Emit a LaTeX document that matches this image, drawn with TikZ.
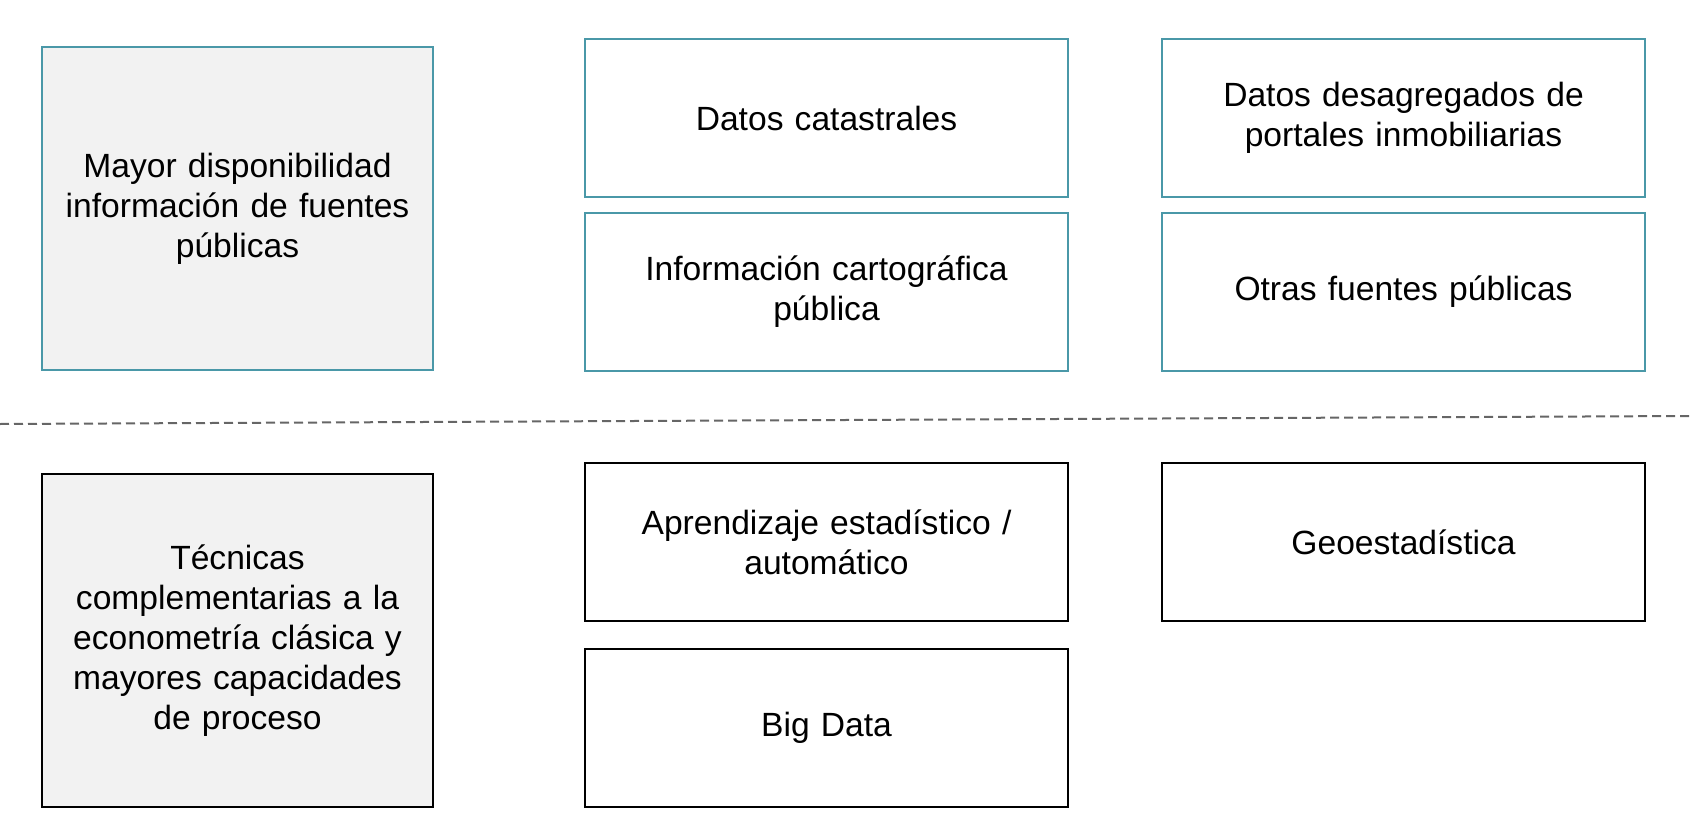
\documentclass[tikz,border=0pt]{standalone}
\usepackage{fontspec}
\setmainfont{Liberation Sans}
\usepackage{xcolor}
\usetikzlibrary{positioning}
\definecolor{tealline}{RGB}{74,152,168}
\definecolor{greyfill}{RGB}{242,242,242}
\tikzstyle{mainbox} = [rectangle, text width = 185pt, minimum width=195.5pt, minimum height=161.5pt, align=center, draw=tealline, line width=1pt, fill=greyfill, font=\fontsize{16.8pt}{20pt}\selectfont]
\tikzstyle{sourcebox} = [rectangle, text width = 230pt, minimum width=241.5pt, minimum height=79pt, align=center, draw=tealline, line width=1pt, fill=white, font=\fontsize{16.8pt}{20pt}\selectfont]
\tikzstyle{techbox} = [sourcebox, draw=black]
\tikzstyle{techmain} = [mainbox, draw=black, minimum height=166.5pt]
\tikzstyle{divider} = [dashed, dash pattern=on 4.5pt off 2.5pt, line width=1pt, draw=black!60]

\begin{document}
\begin{tikzpicture}[x=0.5pt,y=-0.5pt]
	\useasboundingbox (0,0) rectangle (1690,834);

	% fuentes de datos
	\node (avail) [mainbox] at (237.5,208.5) {Mayor disponibilidad\\informaci\'on de fuentes\\p\'ublicas};
	\node (catastro) [sourcebox] at (826.5,118) {Datos catastrales};
	\node (carto) [sourcebox,below=7pt of catastro] {Informaci\'on cartogr\'afica\\p\'ublica};
	\node (portales) [sourcebox] at (1403.5,118) {Datos desagregados de\\portales inmobiliarias};
	\node (otras) [sourcebox,below=7pt of portales] {Otras fuentes p\'ublicas};

	% separador
	\coordinate (sepL) at (0,424);
	\coordinate (sepR) at (1690,416);
	\draw [divider] (sepL) -- (sepR);

	% tecnicas
	\node (tecnicas) [techmain] at (237.5,640.5) {T\'ecnicas\\complementarias a la\\econometr\'ia cl\'asica y\\mayores capacidades\\de proceso};
	\node (aprend) [techbox] at (826.5,542) {Aprendizaje estad\'istico /\\autom\'atico};
	\node (bigdata) [techbox,below=13pt of aprend] {Big Data};
	\node (geo) [techbox] at (1403.5,542) {Geoestad\'istica};

\end{tikzpicture}
\end{document}
